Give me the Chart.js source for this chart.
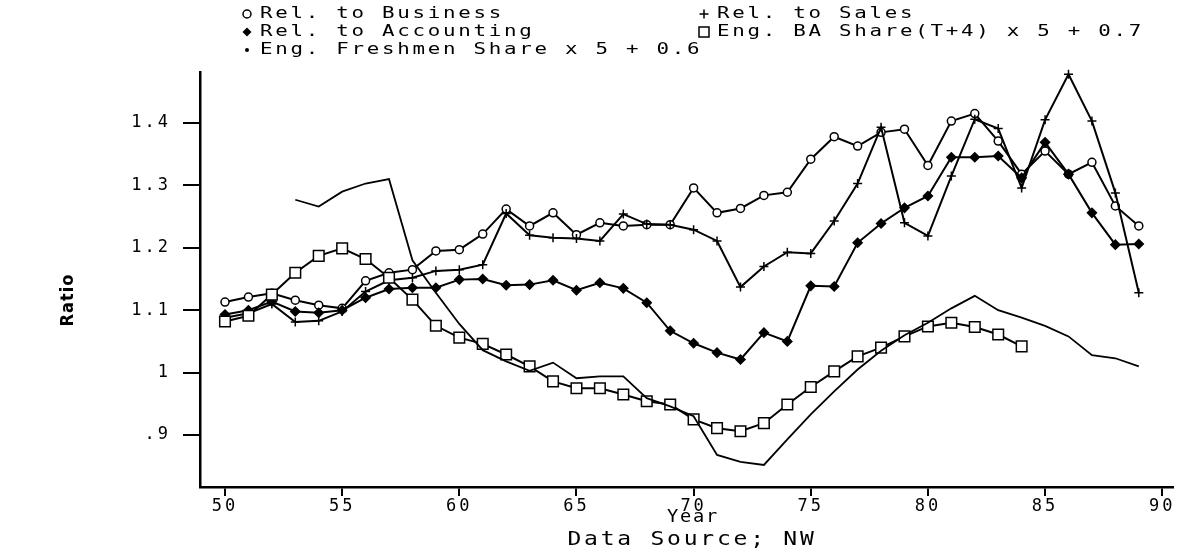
<!DOCTYPE html>
<html>
<head>
<meta charset="utf-8">
<script src="https://cdn.jsdelivr.net/npm/chart.js@4.4.1/dist/chart.umd.min.js"></script>
<style>
  html, body { margin: 0; padding: 0; background: #fff; }
  #wrap { width: 1191px; height: 560px; }
</style>
</head>
<body>
<div id="wrap"><canvas id="chart" width="1191" height="560"></canvas></div>
<script>
/* =====================================================
   DATA
===================================================== */
const years = [50, 51, 52, 53, 54, 55, 56, 57, 58, 59, 60, 61, 62, 63, 64, 65, 66, 67, 68, 69,
               70, 71, 72, 73, 74, 75, 76, 77, 78, 79, 80, 81, 82, 83, 84, 85, 86, 87, 88, 89];
const freshYears = [53, 54, 55, 56, 57, 58, 59, 60, 61, 62, 63, 64, 65, 66, 67, 68, 69, 70, 71,
                    72, 73, 74, 75, 76, 77, 78, 79, 80, 81, 82, 83, 84, 85, 86, 87, 88, 89];
const baYears = [50, 51, 52, 53, 54, 55, 56, 57, 58, 59, 60, 61, 62, 63, 64, 65, 66, 67,
                 68, 69, 70, 71, 72, 73, 74, 75, 76, 77, 78, 79, 80, 81, 82, 83, 84];

const relBusiness = [1.113, 1.121, 1.127, 1.116, 1.108, 1.103, 1.147, 1.160, 1.165, 1.195,
                     1.197, 1.222, 1.262, 1.235, 1.256, 1.221, 1.240, 1.235, 1.237, 1.237,
                     1.296, 1.256, 1.263, 1.284, 1.289, 1.342, 1.378, 1.363, 1.385, 1.390,
                     1.332, 1.403, 1.415, 1.371, 1.318, 1.355, 1.318, 1.337, 1.267, 1.235];
const relAccounting = [1.093, 1.100, 1.114, 1.098, 1.096, 1.100, 1.120, 1.134, 1.136, 1.136,
                       1.149, 1.150, 1.140, 1.141, 1.148, 1.132, 1.144, 1.135, 1.112, 1.067,
                       1.047, 1.032, 1.021, 1.064, 1.050, 1.139, 1.138, 1.208, 1.239, 1.264,
                       1.283, 1.345, 1.345, 1.347, 1.312, 1.369, 1.318, 1.256, 1.205, 1.206];
const relSales = [1.088, 1.095, 1.110, 1.081, 1.083, 1.098, 1.130, 1.148, 1.152, 1.163,
                  1.165, 1.173, 1.255, 1.220, 1.216, 1.215, 1.211, 1.254, 1.238, 1.237,
                  1.229, 1.211, 1.137, 1.170, 1.193, 1.191, 1.243, 1.303, 1.393, 1.240,
                  1.219, 1.315, 1.406, 1.391, 1.296, 1.405, 1.478, 1.403, 1.288, 1.128];
const freshShare = [1.277, 1.266, 1.290, 1.303, 1.310, 1.180, 1.128, 1.078, 1.036, 1.018,
                    1.003, 1.016, 0.991, 0.994, 0.994, 0.959, 0.946, 0.930, 0.868, 0.857,
                    0.852, 0.893, 0.933, 0.970, 1.005, 1.035, 1.060, 1.080, 1.103, 1.123,
                    1.100, 1.088, 1.075, 1.058, 1.028, 1.023, 1.010];
const baShare = [1.082, 1.091, 1.125, 1.160, 1.187, 1.199, 1.182, 1.152, 1.117, 1.075,
                 1.056, 1.046, 1.029, 1.010, 0.986, 0.975, 0.975, 0.965, 0.954, 0.949,
                 0.925, 0.911, 0.906, 0.919, 0.949, 0.977, 1.002, 1.026, 1.040, 1.058,
                 1.074, 1.080, 1.073, 1.061, 1.042];

const yearTicks = [50, 55, 60, 65, 70, 75, 80, 85, 90];
const ratioTicks = [0.9, 1.0, 1.1, 1.2, 1.3, 1.4];
const ratioLabels = [".9", "1", "1.1", "1.2", "1.3", "1.4"];

/* =====================================================
   HELPERS
===================================================== */
const pts = (xs, ys) => xs.map((x, i) => ({ x, y: ys[i] }));
const MONO = '"DejaVu Sans Mono", monospace';

// plotter-like text: monospace stretched sideways
const wideText = (ctx, text, x, y, size, sx, ls, align) => {
  ctx.save();
  ctx.translate(x, y);
  ctx.scale(sx, 1);
  ctx.font = size + "px " + MONO;
  ctx.letterSpacing = ls + "px";
  ctx.textAlign = align;
  ctx.textBaseline = "middle";
  ctx.fillStyle = "#000";
  ctx.fillText(text, 0, 0);
  ctx.restore();
};

const marker = (ctx, kind, x, y) => {
  ctx.beginPath();
  if (kind === "circle") {
    ctx.arc(x, y, 4, 0, Math.PI * 2);
    ctx.fillStyle = "#fff"; ctx.fill(); ctx.stroke();
  } else if (kind === "diamond") {
    ctx.moveTo(x, y - 4.5); ctx.lineTo(x + 4.5, y); ctx.lineTo(x, y + 4.5); ctx.lineTo(x - 4.5, y);
    ctx.closePath(); ctx.fillStyle = "#000"; ctx.fill();
  } else if (kind === "dot") {
    ctx.arc(x, y, 2, 0, Math.PI * 2);
    ctx.fillStyle = "#000"; ctx.fill();
  } else if (kind === "cross") {
    ctx.moveTo(x - 4.5, y); ctx.lineTo(x + 4.5, y);
    ctx.moveTo(x, y - 4.5); ctx.lineTo(x, y + 4.5);
    ctx.stroke();
  } else if (kind === "square") {
    ctx.rect(x - 5, y - 5, 10, 10);
    ctx.fillStyle = "#fff"; ctx.fill(); ctx.stroke();
  }
};

/* =====================================================
   LEGEND + TITLES
===================================================== */
const legendItems = [
  { kind: "circle",  label: "Rel. to Business",              x: 247, y: 14 },
  { kind: "diamond", label: "Rel. to Accounting",            x: 247, y: 32 },
  { kind: "dot",     label: "Eng. Freshmen Share x 5 + 0.6", x: 247, y: 50 },
  { kind: "cross",   label: "Rel. to Sales",                 x: 704, y: 14 },
  { kind: "square",  label: "Eng. BA Share(T+4) x 5 + 0.7",  x: 704, y: 32 }
];

const extraText = {
  id: "extraText",
  beforeDraw(chart) {
    chart.ctx.letterSpacing = "3px";
  },
  afterDraw(chart) {
    const ctx = chart.ctx;
    ctx.save();
    ctx.strokeStyle = "#000";
    ctx.lineWidth = 1.5;

    legendItems.forEach(it => {
      marker(ctx, it.kind, it.x, it.y);
      wideText(ctx, it.label, it.x + 13, it.y, 16, 1.3, 2.1, "left");
    });

    wideText(ctx, "Year", 693, 518, 17, 1.1, 1.6, "center");
    wideText(ctx, "Data Source; NW", 692, 540, 20, 1.15, 2.4, "center");

    ctx.letterSpacing = "1px";
    ctx.fillStyle = "#000";
    ctx.textAlign = "center";
    ctx.textBaseline = "middle";
    ctx.font = 'bold 18px "Liberation Sans Narrow", "DejaVu Sans Condensed", sans-serif';
    ctx.translate(68, 300);
    ctx.rotate(-Math.PI / 2);
    ctx.fillText("Ratio", 0, 0);
    ctx.restore();
  }
};

/* =====================================================
   CHART
===================================================== */
const lineSet = (data, style, radius, fill) => ({
  data,
  borderColor: "#000",
  borderWidth: 2,
  pointStyle: style,
  pointRadius: radius,
  pointBorderWidth: 1.5,
  pointBorderColor: "#000",
  pointBackgroundColor: fill,
  tension: 0,
  clip: false
});

new Chart(document.getElementById("chart"), {
  type: "line",
  data: {
    datasets: [
      { ...lineSet(pts(freshYears, freshShare), false, 0, "#000"), borderWidth: 1.8 },
      lineSet(pts(baYears, baShare), "rect", 7.5, "#fff"),
      lineSet(pts(years, relAccounting), "rectRot", 4.5, "#000"),
      lineSet(pts(years, relSales), "cross", 4.5, "#000"),
      lineSet(pts(years, relBusiness), "circle", 4, "#fff")
    ]
  },
  options: {
    responsive: false,
    animation: false,
    devicePixelRatio: 1,
    layout: { padding: { top: 72, right: 18, bottom: 0, left: 0 } },
    plugins: { legend: { display: false }, tooltip: { enabled: false } },
    scales: {
      x: {
        type: "linear",
        min: 48.933,
        max: 90.46,
        afterBuildTicks: s => { s.ticks = yearTicks.map(v => ({ value: v })); },
        afterFit: s => { s.height = 73; },
        grid: { drawOnChartArea: false, drawTicks: true, tickLength: 9, color: "#000", lineWidth: 2 },
        border: { display: true, color: "#000", width: 2.5 },
        ticks: {
          color: "#000", padding: 0, maxRotation: 0, autoSkip: false,
          font: { family: "DejaVu Sans Mono", size: 17 },
          callback: v => String(v)
        }
      },
      y: {
        type: "linear",
        min: 0.8167,
        max: 1.4817,
        afterBuildTicks: s => { s.ticks = ratioTicks.map(v => ({ value: v })); },
        afterFit: s => { s.width = 200; },
        grid: { drawOnChartArea: false, drawTicks: true, tickLength: 17, color: "#000", lineWidth: 2 },
        border: { display: true, color: "#000", width: 2.5 },
        ticks: {
          color: "#000", padding: 12,
          font: { family: "DejaVu Sans Mono", size: 17 },
          callback: v => ratioLabels[ratioTicks.indexOf(v)]
        }
      }
    }
  },
  plugins: [extraText]
});
</script>
</body>
</html>
